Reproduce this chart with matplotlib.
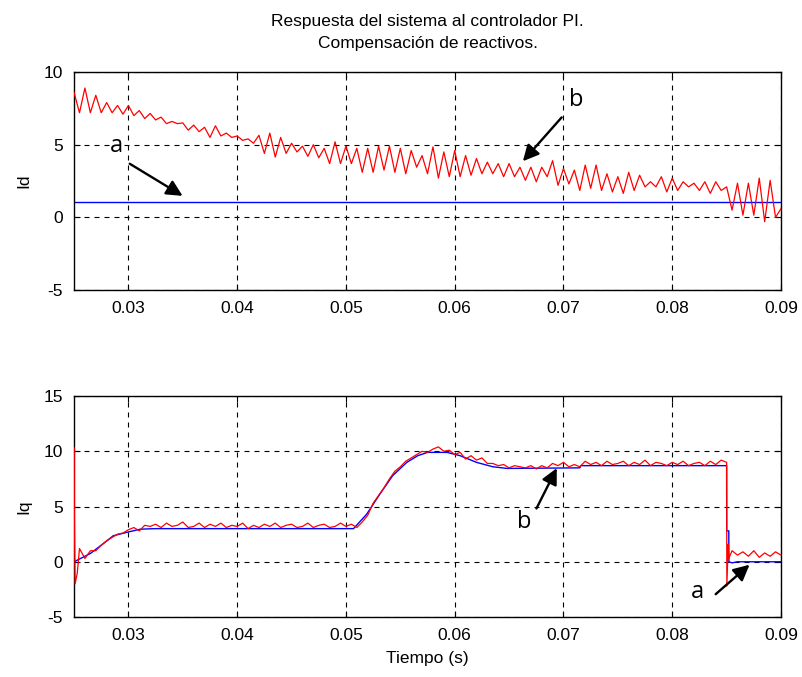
import numpy as np
import matplotlib
matplotlib.use("Agg")
import matplotlib.pyplot as plt

plt.rcParams['font.family'] = ['Liberation Sans', 'DejaVu Sans']
plt.rcParams['axes.unicode_minus'] = False

# ---- Id (upper plot) ----
t_id = np.arange(131) * 0.0005 + 0.025
id_ref = [1.08] * len(t_id)
id_meas = [8.6, 7.2, 8.9, 7.2, 8.4, 7.2, 7.9, 7.2, 7.7, 7.1,
           7.7, 7.0, 7.35, 6.8, 7.15, 6.7, 6.9, 6.45, 6.6, 6.45,
           6.5, 6.0, 6.35, 5.9, 6.2, 5.5, 6.3, 5.6, 5.8, 5.5,
           5.6, 5.3, 5.4, 5.1, 5.65, 4.4, 5.8, 4.15, 5.5, 4.4,
           5.1, 4.5, 4.9, 4.2, 5.0, 4.1, 4.75, 3.7, 5.2, 3.7,
           4.9, 3.7, 4.75, 3.1, 4.75, 3.1, 4.9, 3.25, 4.9, 3.1,
           4.75, 3.0, 4.6, 3.45, 4.25, 3.0, 4.85, 2.7, 4.5, 2.8,
           4.6, 2.8, 4.25, 2.9, 4.05, 3.0, 3.8, 3.0, 3.7, 2.8,
           3.7, 2.8, 3.45, 2.55, 3.45, 2.45, 3.45, 2.8, 3.9, 2.2,
           3.35, 2.3, 3.25, 1.85, 3.6, 2.0, 3.6, 1.85, 3.0, 1.75,
           2.8, 1.65, 3.1, 1.85, 2.9, 2.1, 2.45, 2.1, 2.8, 1.75,
           2.7, 1.85, 2.45, 2.1, 2.35, 1.85, 2.45, 1.65, 2.45, 1.85,
           2.1, 0.5, 2.35, 0.15, 2.35, 0.15, 2.7, -0.3, 2.55, 0.0,
           0.6]

# ---- Iq (lower plot) ----
t_iq_ref = [0.025, 0.0265, 0.0277, 0.0286, 0.030, 0.0311, 0.0325, 0.0507,
            0.0519, 0.0531, 0.0543, 0.0556, 0.0566, 0.0575, 0.0593, 0.0605,
            0.062, 0.0635, 0.0648, 0.0715, 0.0716, 0.085, 0.08501, 0.0852,
            0.08521, 0.0855, 0.086, 0.09]
iq_ref = [0.0, 0.75, 1.65, 2.35, 2.7, 2.95, 3.0, 3.0,
          4.3, 6.1, 7.8, 9.0, 9.6, 9.9, 9.9, 9.6,
          9.0, 8.6, 8.45, 8.5, 8.7, 8.7, 2.8, 2.8,
          0.0, -0.1, 0.0, 0.0]

t_iq_start = [0.02502, 0.02503, 0.0251, 0.0253, 0.0255]
iq_start = [10.3, 4.3, -2.0, -1.0, 1.2]
t_iq_mid = np.arange(118) * 0.0005 + 0.026
iq_mid = [0.3, 1.0, 1.0, 1.5, 1.9, 2.2, 2.5, 2.6, 2.9, 3.1,
          2.8, 3.3, 3.2, 3.4, 3.1, 3.5, 3.2, 3.3, 3.6, 3.1,
          3.2, 3.5, 3.1, 3.4, 3.2, 3.5, 3.1, 3.3, 3.2, 3.5,
          3.0, 3.3, 3.1, 3.4, 3.2, 3.5, 3.1, 3.3, 3.4, 3.1,
          3.2, 3.5, 3.1, 3.3, 3.4, 3.1, 3.2, 3.5, 3.2, 3.4,
          3.1, 3.6, 4.2, 5.3, 6.0, 6.7, 7.5, 8.2, 8.6, 9.1,
          9.4, 9.7, 10.0, 9.9, 10.2, 10.4, 10.0, 10.1, 9.7, 9.9,
          9.3, 9.6, 9.2, 9.4, 8.9, 8.9, 8.7, 8.8, 8.5, 8.7,
          8.6, 8.5, 8.7, 8.4, 8.7, 8.5, 8.9, 8.7, 9.0, 8.6,
          8.8, 8.6, 9.1, 8.8, 9.0, 8.7, 9.1, 8.8, 8.9, 9.1,
          8.7, 9.0, 8.8, 9.2, 8.7, 9.0, 8.9, 8.7, 9.0, 8.8,
          9.1, 8.7, 8.9, 9.0, 8.7, 9.1, 8.8, 9.2]
t_iq_end = [0.085, 0.08502, 0.08515, 0.0852, 0.0855, 0.086, 0.0865, 0.087,
            0.0875, 0.088, 0.0885, 0.089, 0.0895, 0.09]
iq_end = [9.0, -2.2, 1.6, 0.3, 1.0, 0.6, 0.9, 0.5,
          1.0, 0.4, 0.8, 0.5, 0.9, 0.6]

t_iq = np.concatenate([t_iq_start, t_iq_mid, t_iq_end])
iq_meas = np.concatenate([iq_start, iq_mid, iq_end])

xticks = [0.03, 0.04, 0.05, 0.06, 0.07, 0.08, 0.09]


def style(ax, yticks, ylim):
    ax.set_xlim(0.025, 0.09)
    ax.set_ylim(*ylim)
    ax.set_xticks(xticks)
    ax.set_xticklabels([str(v) for v in xticks])
    ax.set_yticks(yticks)
    ax.tick_params(direction='in', labelsize=12.5, length=4, top=True, right=True, pad=8)
    ax.grid(True, color='k', linestyle=(0, (4.5, 4.5)), linewidth=0.8)
    for s in ax.spines.values():
        s.set_linewidth(1.0)


def arrow(ax, txt, xy, xytext, textpos):
    ax.annotate('', xy=xy, xytext=xytext,
                arrowprops=dict(arrowstyle='-|>', color='k', lw=1.7, mutation_scale=24))
    ax.text(textpos[0], textpos[1], txt, fontsize=17, ha='center', va='center',
            family=['Open Sans', 'DejaVu Sans'])


fig = plt.figure(figsize=(8.03, 6.77), dpi=100)
ax1 = fig.add_axes([0.0922, 0.5716, 0.8804, 0.322])
ax2 = fig.add_axes([0.0922, 0.0886, 0.8804, 0.3264])

ax1.plot(t_id, id_ref, color='b', lw=1.0)
ax1.plot(t_id, id_meas, color='r', lw=0.9, zorder=3)
style(ax1, [-5, 0, 5, 10], (-5, 10))
ax1.set_ylabel('Id', fontsize=12.5, labelpad=9)
ax1.set_title('Respuesta del sistema al controlador PI.\nCompensación de reactivos.',
              fontsize=12.5, pad=17, linespacing=1.6)
arrow(ax1, 'a', (0.0352, 1.38), (0.0299, 3.79), (0.0289, 4.9))
arrow(ax1, 'b', (0.0661, 3.72), (0.0700, 7.02), (0.0712, 8.05))

ax2.plot(t_iq_ref, iq_ref, color='b', lw=1.0)
ax2.plot(t_iq, iq_meas, color='r', lw=0.9, zorder=3)
style(ax2, [-5, 0, 5, 10, 15], (-5, 15))
ax2.set_ylabel('Iq', fontsize=12.5, labelpad=9)
ax2.set_xlabel('Tiempo (s)', fontsize=12.5, labelpad=6)
arrow(ax2, 'b', (0.0695, 8.7), (0.0674, 4.6), (0.0664, 3.6))
arrow(ax2, 'a', (0.0873, -0.1), (0.0838, -3.1), (0.0823, -2.7))

fig.savefig('out.png', dpi=100)
